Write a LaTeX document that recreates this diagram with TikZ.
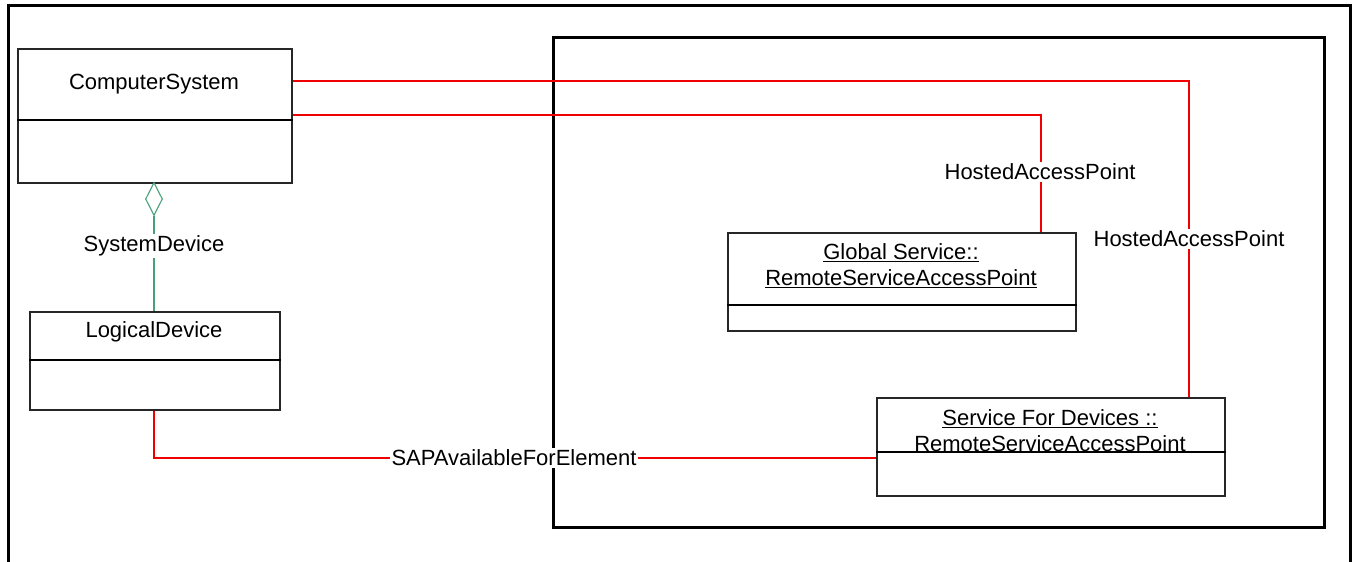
\documentclass[tikz,border=0pt]{standalone}
\usepackage{fontspec}
\setmainfont{Liberation Sans}
\usetikzlibrary{shapes.geometric}
\definecolor{assoc}{RGB}{240,0,0}
\definecolor{aggr}{RGB}{70,160,120}
\tikzset{
  frame/.style={draw=black, line width=3pt},
  umlbox/.style={draw=black!85, line width=1.5pt, rectangle, inner sep=0pt, anchor=north west},
  divider/.style={draw=black, line width=1.2pt},
  txt/.style={inner sep=0pt, align=center, font=\fontsize{22}{26}\selectfont},
  lbl/.style={fill=white, inner sep=2pt, font=\fontsize{22}{26}\selectfont},
  redline/.style={draw=assoc, line width=1.1pt},
  greenline/.style={draw=aggr, line width=1.1pt},
}
\begin{document}
\begin{tikzpicture}[x=1pt,y=-1pt]
\useasboundingbox (0,0) rectangle (1353,562);
% outer frame
\draw[frame] (8,562) -- (8,5) -- (1350,5) -- (1350,562);
% inner frame
\node[umlbox, frame, minimum width=771, minimum height=490] (inner) at (552,36) {};
% ComputerSystem
\node[umlbox, minimum width=274, minimum height=134] (cs) at (17,48) {};
\draw[divider] (cs.west |- 0,120) -- (cs.east |- 0,120);
\node[txt] (cst) at (154,84) {ComputerSystem};
% LogicalDevice
\node[umlbox, minimum width=250, minimum height=98] (ld) at (29,311) {};
\draw[divider] (ld.west |- 0,360) -- (ld.east |- 0,360);
\node[txt] (ldt) at (154,332) {LogicalDevice};
% Global Service
\node[umlbox, minimum width=348, minimum height=98] (gs) at (727,232) {};
\draw[divider] (gs.west |- 0,305) -- (gs.east |- 0,305);
\node[txt] (gst) at (901,266) {\underline{Global Service::}\\\underline{RemoteServiceAccessPoint}};
% Service For Devices
\node[umlbox, minimum width=348, minimum height=98] (sfd) at (876,397) {};
\draw[divider] (sfd.west |- 0,452) -- (sfd.east |- 0,452);
\node[txt] (sfdt) at (1050,431) {\underline{Service For Devices ::}\\RemoteServiceAccessPoint};
% HostedAccessPoint (to Service For Devices)
\coordinate (h1) at (1189,81);
\draw[redline] (cs.east |- h1) -- (h1) -- (h1 |- sfd.north);
\node[lbl] (hap1) at (1189,239) {HostedAccessPoint};
% HostedAccessPoint (to Global Service)
\coordinate (h2) at (1041,115);
\draw[redline] (cs.east |- h2) -- (h2) -- (h2 |- gs.north);
\node[lbl] (hap2) at (1040,172) {HostedAccessPoint};
% SAPAvailableForElement
\coordinate (s1) at (154,458);
\draw[redline] (s1 |- ld.south) -- (s1) -- (sfd.west |- s1);
\node[lbl] (sap) at (514,458) {SAPAvailableForElement};
% SystemDevice aggregation
\node[draw=aggr, line width=1.1pt, diamond, inner sep=0pt, minimum width=17, minimum height=33, fill=white] (dia) at (154,199) {};
\draw[greenline] (dia.south) -- (dia.south |- ld.north);
\node[lbl] (sd) at (154,246) {SystemDevice};
\end{tikzpicture}
\end{document}
